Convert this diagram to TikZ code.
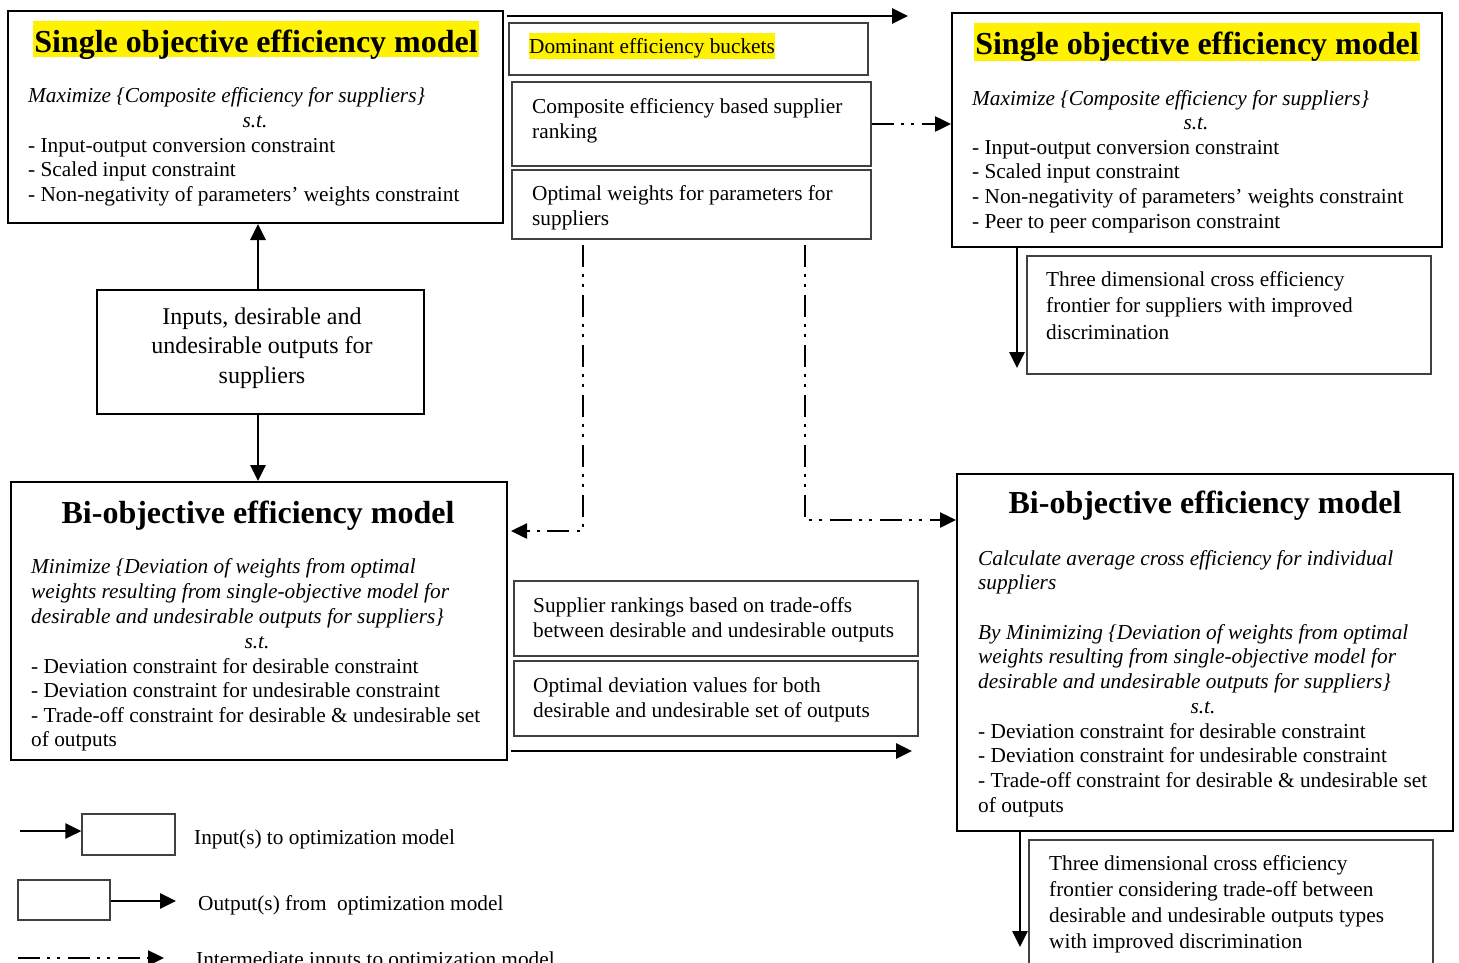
\documentclass[tikz,border=0pt]{standalone}
\usepackage{fontspec}
\setmainfont{Liberation Serif}
\usetikzlibrary{arrows.meta,calc}
\begin{document}
\begin{tikzpicture}[x=1pt,y=-1pt,
  mainbox/.style={draw=black,line width=2pt,inner sep=0pt},
  subbox/.style={draw=black!75,line width=1.2pt,inner sep=0pt},
  txt/.style={font=\fontsize{21.3}{24.5}\selectfont,inner sep=0pt,align=left,anchor=base west},
  ctxt/.style={font=\fontsize{21.3}{24.5}\selectfont,inner sep=0pt,anchor=base},
  title/.style={font=\fontsize{32}{34}\bfseries\selectfont,inner sep=0pt,anchor=base},
  hl/.style={fill=yellow,inner xsep=1pt,inner ysep=0pt},
  arr/.style={line width=2.7pt,-{Triangle[length=16pt,width=15pt]}},
  dda/.style={line width=2.5pt,dash pattern=on 22pt off 7pt on 3pt off 7pt on 3pt off 8pt,-{Triangle[length=16pt,width=15pt]}},
]
\useasboundingbox (0,0) rectangle (1459,962);
\clip (0,0) rectangle (1459,962);

% ---------- boxes ----------
\node[mainbox,minimum width=495pt,minimum height=212pt] (so1) at (255.5,117) {};
\node[mainbox,minimum width=327pt,minimum height=124pt] (inputs) at (260.5,352) {};
\node[mainbox,minimum width=496pt,minimum height=278pt] (bo1) at (259,621) {};
\node[subbox,minimum width=359pt,minimum height=52pt] (dom) at (688.5,49) {};
\node[subbox,minimum width=359pt,minimum height=84pt] (comp) at (691.5,124) {};
\node[subbox,minimum width=359pt,minimum height=69pt] (optw) at (691.5,204.5) {};
\node[mainbox,minimum width=490pt,minimum height=234pt] (so2) at (1197,130) {};
\node[subbox,minimum width=404pt,minimum height=118pt] (td1) at (1229,315) {};
\node[mainbox,minimum width=496pt,minimum height=357pt] (bo2) at (1205,652.5) {};
\node[subbox,minimum width=404pt,minimum height=75pt] (sr) at (716,618.5) {};
\node[subbox,minimum width=404pt,minimum height=75pt] (od) at (716,698.5) {};
\node[subbox,minimum width=404pt,minimum height=160pt] (td2) at (1231,920) {};
\node[subbox,minimum width=93pt,minimum height=41pt] (leg1) at (128.5,834.5) {};
\node[subbox,minimum width=92pt,minimum height=40pt] (leg2) at (64,900) {};

% ---------- texts (multi-line nodes anchored at the baseline of their last line) ----------
\node[title,hl,text height=31pt,text depth=5pt] (so1t) at (256,52) {Single objective efficiency model};
\node[txt,font=\fontsize{21.3}{24.5}\itshape\selectfont] (so1i) at (28,102) {Maximize \{Composite efficiency for suppliers\}};
\node[ctxt,font=\fontsize{21.3}{24.5}\itshape\selectfont] (so1s) at (255,127) {s.t.};
\node[txt] (so1c) at (28,201) {- Input-output conversion constraint\\- Scaled input constraint\\- Non-negativity of parameters’ weights constraint};

\node[font=\fontsize{24}{29.5}\selectfont,inner sep=0pt,align=center,anchor=base] (inpt) at (262,383) {Inputs, desirable and\\undesirable outputs for\\suppliers};

\node[title] (bo1t) at (258,523) {Bi-objective efficiency model};
\node[txt,font=\fontsize{21.3}{25}\itshape\selectfont] (bo1i) at (31,623) {Minimize \{Deviation of weights from optimal\\weights resulting from single-objective model for\\desirable and undesirable outputs for suppliers\}};
\node[ctxt,font=\fontsize{21.3}{24.5}\itshape\selectfont] (bo1s) at (257,648) {s.t.};
\node[txt] (bo1c) at (31,746.5) {- Deviation constraint for desirable constraint\\- Deviation constraint for undesirable constraint\\- Trade-off constraint for desirable \& undesirable set\\of outputs};

\node[txt,fill=yellow,text height=20pt,text depth=6pt] (domt) at (529,53) {Dominant efficiency buckets};
\node[txt,font=\fontsize{21.3}{25}\selectfont] (compt) at (532,138) {Composite efficiency based supplier\\ranking};
\node[txt,font=\fontsize{21.3}{25}\selectfont] (optwt) at (532,225) {Optimal weights for parameters for\\suppliers};

\node[title,hl,text height=31pt,text depth=7pt] (so2t) at (1197,54) {Single objective efficiency model};
\node[txt,font=\fontsize{21.3}{24.5}\itshape\selectfont] (so2i) at (972,105) {Maximize \{Composite efficiency for suppliers\}};
\node[ctxt,font=\fontsize{21.3}{24.5}\itshape\selectfont] (so2s) at (1196,129) {s.t.};
\node[txt,font=\fontsize{21.3}{24.6}\selectfont] (so2c) at (972,228) {- Input-output conversion constraint\\- Scaled input constraint\\- Non-negativity of parameters’ weights constraint\\- Peer to peer comparison constraint};

\node[txt,font=\fontsize{21.3}{26.5}\selectfont] (td1t) at (1046,339) {Three dimensional cross efficiency\\frontier for suppliers with improved\\discrimination};

\node[title] (bo2t) at (1205,513) {Bi-objective efficiency model};
\node[txt,font=\fontsize{21.3}{24.5}\itshape\selectfont] (bo2i) at (978,589.5) {Calculate average cross efficiency for individual\\suppliers};
\node[txt,font=\fontsize{21.3}{24.5}\itshape\selectfont] (bo2j) at (978,688) {By Minimizing \{Deviation of weights from optimal\\weights resulting from single-objective model for\\desirable and undesirable outputs for suppliers\}};
\node[ctxt,font=\fontsize{21.3}{24.5}\itshape\selectfont] (bo2s) at (1203,713) {s.t.};
\node[txt,font=\fontsize{21.3}{24.6}\selectfont] (bo2c) at (978,812) {- Deviation constraint for desirable constraint\\- Deviation constraint for undesirable constraint\\- Trade-off constraint for desirable \& undesirable set\\of outputs};

\node[txt,font=\fontsize{21.3}{25}\selectfont] (srt) at (533,637) {Supplier rankings based on trade-offs\\between desirable and undesirable outputs};
\node[txt,font=\fontsize{21.3}{25}\selectfont] (odt) at (533,717) {Optimal deviation values for both\\desirable and undesirable set of outputs};

\node[txt,font=\fontsize{21.3}{26}\selectfont] (td2t) at (1049,948) {Three dimensional cross efficiency\\frontier considering trade-off between\\desirable and undesirable outputs types\\with improved discrimination};

\node[txt] (leg1t) at (194,844) {Input(s) to optimization model};
\node[txt] (leg2t) at (198,910) {Output(s) from\ \ optimization model};
\node[txt] (leg3t) at (196,966) {Intermediate inputs to optimization model};

% ---------- connectors ----------
\draw[arr] (inputs.north -| 258,0) -- (so1.south -| 258,0);
\draw[arr] (inputs.south -| 258,0) -- (bo1.north -| 258,0);

\coordinate (topend) at (908,16);
\draw[arr] (so1.north east |- topend) ++(3,0) -- (topend);

\draw[dda] (comp.east) -- (comp.east -| so2.west);

\draw[dda,shorten <=5pt,shorten >=3pt] (optw.south -| 583,0) |- (bo1.east |- 0,531);
\draw[dda,shorten <=5pt] (optw.south -| 805,0) |- (bo2.west |- 0,520);

\coordinate (bo1end) at (912,751);
\draw[arr] ($(bo1.east |- bo1end)+(3,0)$) -- (bo1end);

\coordinate (so2end) at (1017,368);
\draw[arr] (so2.south -| so2end) -- (so2end);
\coordinate (bo2end) at (1020,947);
\draw[arr] (bo2.south -| bo2end) -- (bo2end);

% ---------- legend ----------
\coordinate (l1s) at (20,831);
\draw[arr] (l1s) -- (leg1.west |- l1s);
\coordinate (l2e) at (176,901);
\draw[arr] (leg2.east |- l2e) -- (l2e);
\coordinate (l3s) at (18,958);
\coordinate (l3e) at (164,958);
\draw[dda] (l3s) -- (l3e);
\end{tikzpicture}
\end{document}
